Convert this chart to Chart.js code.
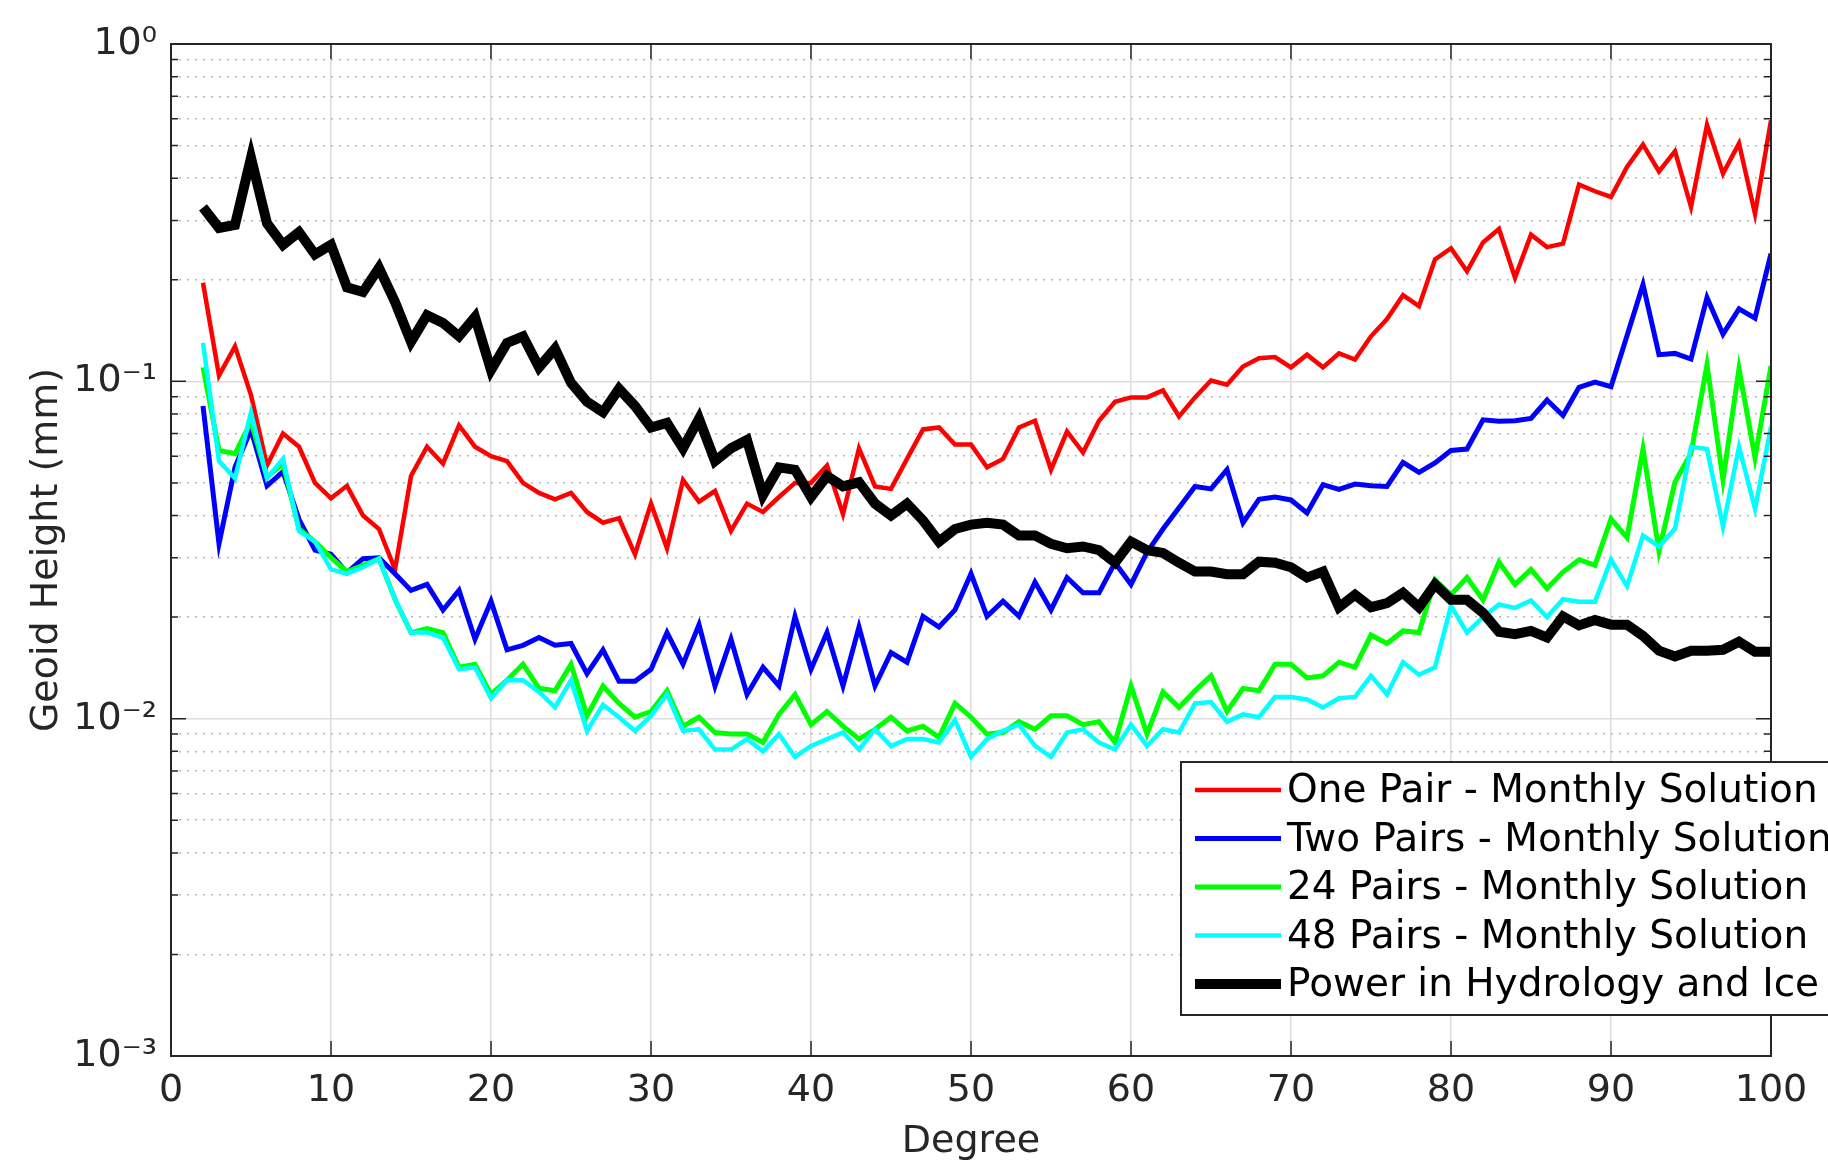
<!DOCTYPE html>
<html>
<head>
<meta charset="utf-8">
<title>Geoid Height vs Degree</title>
<script src="https://cdn.jsdelivr.net/npm/chart.js@4/dist/chart.umd.min.js"></script>
<style>
    html, body { margin: 0; padding: 0; background: #ffffff; }
    #wrap { width: 1828px; height: 1173px; }
</style>
</head>
<body>
<div id="wrap"><canvas id="geoidChart" width="1828" height="1173"></canvas></div>
<script>
// spherical harmonic degree (x axis)
const degrees = [
    2, 3, 4, 5, 6, 7, 8, 9, 10, 11, 12, 13, 14, 15, 16, 17, 18, 19, 20,
    21, 22, 23, 24, 25, 26, 27, 28, 29, 30, 31, 32, 33, 34, 35, 36, 37, 38, 39, 40,
    41, 42, 43, 44, 45, 46, 47, 48, 49, 50, 51, 52, 53, 54, 55, 56, 57, 58, 59, 60,
    61, 62, 63, 64, 65, 66, 67, 68, 69, 70, 71, 72, 73, 74, 75, 76, 77, 78, 79, 80,
    81, 82, 83, 84, 85, 86, 87, 88, 89, 90, 91, 92, 93, 94, 95, 96, 97, 98, 99, 100
];

// geoid height error per degree (mm)
const onePair = [
    0.196, 0.104, 0.127, 0.091, 0.0563, 0.070, 0.064, 0.050, 0.045, 0.049, 0.040, 0.0365, 0.0277, 0.0524, 0.064, 0.057, 0.074, 0.064, 0.060,
    0.058, 0.050, 0.0467, 0.0447, 0.0467, 0.041, 0.0381, 0.0393, 0.0307, 0.0434, 0.032, 0.051, 0.044, 0.0473, 0.036, 0.0434, 0.041, 0.0454, 0.050, 0.050,
    0.0563, 0.0404, 0.0633, 0.0488, 0.048, 0.0589, 0.072, 0.073, 0.065, 0.065, 0.0556, 0.0589, 0.073, 0.0764, 0.0547, 0.071, 0.0615, 0.0764, 0.087, 0.0896,
    0.0896, 0.094, 0.0787, 0.0896, 0.1006, 0.0977, 0.1106, 0.117, 0.118, 0.110, 0.120, 0.110, 0.121, 0.116, 0.136, 0.153, 0.180, 0.167, 0.230, 0.248,
    0.212, 0.258, 0.283, 0.203, 0.272, 0.250, 0.256, 0.383, 0.366, 0.352, 0.432, 0.503, 0.419, 0.481, 0.329, 0.576, 0.413, 0.507, 0.314, 0.594
];
const twoPairs = [
    0.0845, 0.033, 0.0556, 0.072, 0.049, 0.054, 0.039, 0.0316, 0.0307, 0.0271, 0.0298, 0.030, 0.0269, 0.024, 0.025, 0.021, 0.024, 0.0172, 0.0223,
    0.016, 0.0165, 0.0174, 0.0165, 0.0167, 0.0136, 0.016, 0.0129, 0.0129, 0.014, 0.018, 0.0145, 0.019, 0.0125, 0.0172, 0.0118, 0.0142, 0.0125, 0.0201, 0.014,
    0.018, 0.0125, 0.0187, 0.0125, 0.0157, 0.0147, 0.0201, 0.0187, 0.021, 0.0269, 0.0201, 0.0223, 0.0201, 0.0254, 0.021, 0.0262, 0.0236, 0.0236, 0.029, 0.025,
    0.0311, 0.0365, 0.0422, 0.0488, 0.048, 0.0547, 0.0381, 0.0447, 0.0454, 0.0445, 0.0407, 0.0494, 0.0478, 0.0496, 0.049, 0.0488, 0.0575, 0.0537, 0.0573, 0.0624,
    0.063, 0.0769, 0.0762, 0.0764, 0.0776, 0.088, 0.0792, 0.096, 0.0994, 0.0964, 0.1366, 0.1936, 0.120, 0.121, 0.1164, 0.177, 0.138, 0.164, 0.154, 0.239
];
const pairs24 = [
    0.110, 0.0624, 0.061, 0.076, 0.052, 0.057, 0.0365, 0.0335, 0.030, 0.0273, 0.0285, 0.0298, 0.0226, 0.018, 0.0185, 0.018, 0.0142, 0.0145, 0.0118,
    0.013, 0.0145, 0.0123, 0.0121, 0.0145, 0.0102, 0.0125, 0.0111, 0.0101, 0.0105, 0.0121, 0.0095, 0.0101, 0.0091, 0.0090, 0.0090, 0.0085, 0.0103, 0.0118, 0.0096,
    0.0105, 0.0095, 0.0087, 0.0093, 0.0101, 0.0092, 0.0095, 0.0088, 0.0111, 0.0101, 0.0090, 0.0091, 0.0098, 0.0093, 0.0102, 0.0102, 0.0096, 0.0098, 0.0085, 0.0125,
    0.0090, 0.0120, 0.0108, 0.0121, 0.0134, 0.0105, 0.0123, 0.0121, 0.0145, 0.0145, 0.0132, 0.0134, 0.0147, 0.0142, 0.0177, 0.0167, 0.0182, 0.0180, 0.0258, 0.0233,
    0.0262, 0.0225, 0.0291, 0.025, 0.0277, 0.0243, 0.0272, 0.0296, 0.0285, 0.0391, 0.0344, 0.063, 0.0314, 0.0503, 0.0612, 0.112, 0.051, 0.109, 0.0594, 0.111
];
const pairs48 = [
    0.130, 0.058, 0.0516, 0.081, 0.0516, 0.0589, 0.036, 0.0335, 0.0277, 0.0269, 0.0281, 0.0298, 0.0226, 0.018, 0.018, 0.0174, 0.014, 0.0142, 0.0115,
    0.013, 0.013, 0.012, 0.0108, 0.013, 0.0092, 0.011, 0.0101, 0.0092, 0.0102, 0.0118, 0.0092, 0.0093, 0.0081, 0.0081, 0.0087, 0.0080, 0.0090, 0.0077, 0.0083,
    0.0087, 0.0091, 0.0081, 0.0093, 0.0083, 0.0087, 0.0087, 0.0085, 0.0099, 0.0077, 0.0087, 0.0092, 0.0096, 0.0083, 0.0077, 0.0091, 0.0093, 0.0085, 0.0081, 0.0096,
    0.0083, 0.0093, 0.0091, 0.0111, 0.0112, 0.0098, 0.0103, 0.0101, 0.0116, 0.0116, 0.0114, 0.0108, 0.0115, 0.0116, 0.0134, 0.0118, 0.0147, 0.0135, 0.0142, 0.0216,
    0.018, 0.020, 0.0218, 0.0213, 0.0224, 0.020, 0.0226, 0.0222, 0.0222, 0.0296, 0.0247, 0.0349, 0.0324, 0.0366, 0.064, 0.063, 0.0371, 0.064, 0.0419, 0.0734
];
const hydroIce = [
    0.328, 0.285, 0.291, 0.46, 0.294, 0.254, 0.277, 0.238, 0.254, 0.190, 0.184, 0.217, 0.172, 0.131, 0.157, 0.149, 0.136, 0.155, 0.108,
    0.130, 0.136, 0.110, 0.125, 0.099, 0.087, 0.081, 0.095, 0.0845, 0.073, 0.0753, 0.0633, 0.0775, 0.058, 0.0633, 0.067, 0.046, 0.0556, 0.0547, 0.0454,
    0.0524, 0.0488, 0.0502, 0.0434, 0.040, 0.0434, 0.0387, 0.0335, 0.0365, 0.0376, 0.0381, 0.0376, 0.0349, 0.0349, 0.033, 0.032, 0.0324, 0.0316, 0.029, 0.0335,
    0.0316, 0.031, 0.029, 0.0273, 0.0273, 0.0268, 0.0268, 0.0292, 0.029, 0.0281, 0.0262, 0.0273, 0.0214, 0.0233, 0.0214, 0.022, 0.0236, 0.0214, 0.025, 0.0225,
    0.0225, 0.0206, 0.0181, 0.0178, 0.0182, 0.0174, 0.0201, 0.0189, 0.0196, 0.019, 0.019, 0.0176, 0.0159, 0.0153, 0.0159, 0.0159, 0.016, 0.0169, 0.0158, 0.0158
];

const seriesLabels = [
    'One Pair - Monthly Solution',
    'Two Pairs - Monthly Solution',
    '24 Pairs - Monthly Solution',
    '48 Pairs - Monthly Solution',
    'Power in Hydrology and Ice'
];

// axis ticks
const xTicks = [0, 10, 20, 30, 40, 50, 60, 70, 80, 90, 100];
const yTickValues = [0.001, 0.01, 0.1, 1];
const yTickLabels = ['10⁻³', '10⁻²', '10⁻¹', '10⁰'];

const TEXT = '#262626';

const isDecade = (v) => {
    const l = Math.log10(v);
    return Math.abs(l - Math.round(l)) < 1e-6;
};

// decade lines plus the 2..9 minor lines in between
const yGridValues = [];
for (let d = 0; d < yTickValues.length; d++) {
    yGridValues.push(yTickValues[d]);
    if (d < yTickValues.length - 1) {
        for (let m = 2; m <= 9; m++) yGridValues.push(m * yTickValues[d]);
    }
}

const toPoints = (vals) => vals.map((v, i) => ({ x: degrees[i], y: v }));

// axes box with inward tick marks (MATLAB look)
const axesBox = {
    id: 'axesBox',
    afterDatasetsDraw(chart) {
        const { ctx, chartArea: a, scales: { x, y } } = chart;
        ctx.save();
        ctx.strokeStyle = TEXT;
        ctx.lineWidth = 1.5;
        ctx.beginPath();
        x.ticks.forEach(t => {
            const px = x.getPixelForValue(t.value);
            ctx.moveTo(px, a.bottom); ctx.lineTo(px, a.bottom - 15);
            ctx.moveTo(px, a.top); ctx.lineTo(px, a.top + 15);
        });
        y.ticks.forEach(t => {
            const py = y.getPixelForValue(t.value);
            const len = isDecade(t.value) ? 15 : 7;
            ctx.moveTo(a.left, py); ctx.lineTo(a.left + len, py);
            ctx.moveTo(a.right, py); ctx.lineTo(a.right - len, py);
        });
        ctx.stroke();
        ctx.lineWidth = 2;
        ctx.strokeRect(a.left, a.top, a.right - a.left, a.bottom - a.top);
        ctx.restore();
    }
};

// legend box in lower right, runs past the figure edge like the original
const legendBox = {
    id: 'legendBox',
    afterDraw(chart) {
        const { ctx } = chart;
        const left = 1181, top = 762, bottom = 1015;
        const rowTop = 790, rowStep = 48.5;
        ctx.save();
        ctx.fillStyle = '#ffffff';
        ctx.fillRect(left, top, 700, bottom - top);
        ctx.strokeStyle = TEXT;
        ctx.lineWidth = 2;
        ctx.strokeRect(left, top, 700, bottom - top);
        ctx.font = '39px "DejaVu Sans"';
        ctx.textBaseline = 'middle';
        ctx.textAlign = 'left';
        chart.data.datasets.forEach((ds, i) => {
            const cy = rowTop + i * rowStep;
            ctx.strokeStyle = ds.borderColor;
            ctx.lineWidth = ds.borderWidth;
            ctx.beginPath();
            ctx.moveTo(1195, cy);
            ctx.lineTo(1281, cy);
            ctx.stroke();
            ctx.fillStyle = '#000000';
            ctx.fillText(ds.label, 1287, cy + 2);
        });
        ctx.restore();
    }
};

Chart.defaults.font.family = '"DejaVu Sans", sans-serif';
Chart.defaults.font.size = 38;
Chart.defaults.color = TEXT;

new Chart(document.getElementById('geoidChart'), {
    type: 'line',
    data: {
        datasets: [
            { label: seriesLabels[0], data: toPoints(onePair), borderColor: '#ff0000', borderWidth: 4.5, order: 5 },
            { label: seriesLabels[1], data: toPoints(twoPairs), borderColor: '#0000ff', borderWidth: 5, order: 4 },
            { label: seriesLabels[2], data: toPoints(pairs24), borderColor: '#00ff00', borderWidth: 5, order: 3 },
            { label: seriesLabels[3], data: toPoints(pairs48), borderColor: '#00ffff', borderWidth: 4.5, order: 2 },
            { label: seriesLabels[4], data: toPoints(hydroIce), borderColor: '#000000', borderWidth: 10, order: 1 }
        ]
    },
    options: {
        responsive: false,
        animation: false,
        devicePixelRatio: 1,
        layout: { padding: { left: 0, top: 44, right: 57, bottom: 0 } },
        elements: {
            point: { radius: 0, hoverRadius: 0 },
            line: { tension: 0, fill: false, borderJoinStyle: 'miter' }
        },
        plugins: {
            legend: { display: false },
            tooltip: { enabled: false }
        },
        scales: {
            x: {
                type: 'linear',
                min: 0,
                max: 100,
                afterBuildTicks: (s) => { s.ticks = xTicks.map(v => ({ value: v })); },
                afterFit: (s) => { s.height = 117; },
                ticks: { color: TEXT, padding: 12, maxRotation: 0, autoSkip: false },
                grid: { color: '#dcdcdc', lineWidth: 1.5, drawTicks: false },
                border: { display: false },
                title: { display: true, text: 'Degree', color: TEXT, padding: { top: 0, bottom: 8 } }
            },
            y: {
                type: 'logarithmic',
                min: 0.001,
                max: 1,
                afterBuildTicks: (s) => { s.ticks = yGridValues.map(v => ({ value: v })); },
                afterFit: (s) => { s.width = 171; },
                ticks: {
                    color: TEXT,
                    padding: 14,
                    autoSkip: false,
                    callback: (v) => {
                        const i = yTickValues.findIndex(t => Math.abs(t - v) / t < 1e-6);
                        return i >= 0 ? yTickLabels[i] : '';
                    }
                },
                grid: {
                    drawTicks: false,
                    color: (c) => (c.tick && !isDecade(c.tick.value)) ? '#b8b8b8' : '#dcdcdc',
                    lineWidth: 1.5
                },
                border: {
                    display: false,
                    dash: (c) => (c.tick && !isDecade(c.tick.value)) ? [2, 6] : []
                },
                title: { display: true, text: 'Geoid Height (mm)', color: TEXT, padding: { top: 24, bottom: 0 } }
            }
        }
    },
    plugins: [axesBox, legendBox]
});
</script>
</body>
</html>
